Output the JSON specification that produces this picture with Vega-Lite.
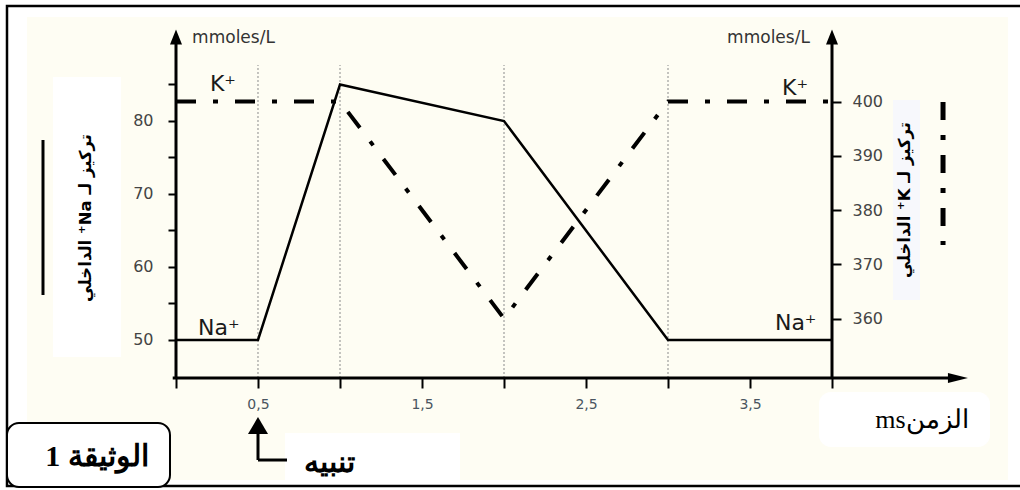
{
  "$schema": "https://vega.github.io/schema/vega-lite/v6.json",
  "width": 1020,
  "height": 490,
  "padding": 0,
  "autosize": {"type": "none"},
  "background": "white",
  "config": {"view": {"stroke": null}, "axis": {"grid": false, "domain": false, "labelFont": "DejaVu Sans", "zindex": 2}},
  "encoding": {
    "x": {
      "field": "x", "type": "quantitative",
      "scale": {"domain": [-1.07317, 5.14634], "nice": false, "zero": false},
      "axis": {
        "orient": "bottom", "offset": -112, "title": null, "zindex": 2,
        "values": [0, 0.5, 1, 1.5, 2, 2.5, 3, 3.5, 4],
        "tickSize": 10, "tickWidth": 2, "tickColor": "black",
        "labelExpr": "(datum.value * 2) % 2 == 1 ? replace(format(datum.value, '.1f'), '.', ',') : ''",
        "labelFontSize": 14, "labelColor": "#4a5560", "labelPadding": 9,
        "labelOverlap": false, "labelFlush": false
      }
    }
  },
  "layer": [
    {
      "encoding": {
        "y": {
          "field": "y", "type": "quantitative",
          "scale": {"domain": [29.452, 96.575], "nice": false, "zero": false},
          "axis": {
            "orient": "left", "offset": -176, "title": null, "zindex": 2,
            "values": [50, 55, 60, 65, 70, 75, 80, 85],
            "tickSize": 8, "tickWidth": 2, "tickColor": "black",
            "labelExpr": "datum.value % 10 == 0 ? datum.label : ''",
            "labelFontSize": 16, "labelColor": "#444444", "labelPadding": 15,
            "labelOverlap": false, "labelFlush": false
          }
        }
      },
      "layer": [
        {
          "data": {"values": [{"x": -0.9085, "x2": 5.0732, "y": 94.247, "y2": 30.822}]},
          "mark": {"type": "rect", "fill": "#fefdf3"},
          "encoding": {"x2": {"field": "x2"}, "y2": {"field": "y2"}}
        },
        {
          "data": {"values": [
            {"x": -0.75, "x2": -0.3354, "y": 86.027, "y2": 47.671},
            {"x": 0.6646, "x2": 1.7317, "y": 37.26, "y2": 30.0}
          ]},
          "mark": {"type": "rect", "fill": "white"},
          "encoding": {"x2": {"field": "x2"}, "y2": {"field": "y2"}}
        },
        {
          "data": {"values": [{"x": 4.372, "x2": 4.537, "y": 82.877, "y2": 55.479}]},
          "mark": {"type": "rect", "fill": "#f7f8fc"},
          "encoding": {"x2": {"field": "x2"}, "y2": {"field": "y2"}}
        },
        {
          "data": {"values": [{"x": 3.9207, "x2": 4.9634, "y": 42.877, "y2": 35.342}]},
          "mark": {"type": "rect", "fill": "white", "cornerRadius": 12},
          "encoding": {"x2": {"field": "x2"}, "y2": {"field": "y2"}}
        },
        {
          "data": {"values": [{"x": -1.0305, "x2": 5.1768, "y": 95.753, "y2": 30.0}]},
          "mark": {"type": "rect", "fill": "transparent", "stroke": "black", "strokeWidth": 2.5},
          "encoding": {"x2": {"field": "x2"}, "y2": {"field": "y2"}}
        },
        {
          "data": {"values": [{"x": -1.0305, "x2": -0.0366, "y": 38.63, "y2": 29.863}]},
          "mark": {"type": "rect", "fill": "white", "stroke": "black", "strokeWidth": 2, "cornerRadius": 12},
          "encoding": {"x2": {"field": "x2"}, "y2": {"field": "y2"}}
        },
        {
          "data": {"values": [
            {"x": 0.5, "y": 44.795, "y2": 87.671},
            {"x": 1, "y": 44.795, "y2": 87.671},
            {"x": 2, "y": 44.795, "y2": 87.671},
            {"x": 3, "y": 44.795, "y2": 87.671}
          ]},
          "mark": {"type": "rule", "color": "#8a8a8a", "strokeWidth": 1, "strokeDash": [2, 2]},
          "encoding": {"y2": {"field": "y2"}}
        },
        {
          "data": {"values": [
            {"x": 0, "x2": 0, "y": 44.795, "y2": 91.1},
            {"x": 4, "x2": 4, "y": 44.795, "y2": 91.1},
            {"x": -0.02, "x2": 4.72, "y": 44.795, "y2": 44.795},
            {"x": 0.5, "x2": 0.5, "y": 33.56, "y2": 37.6},
            {"x": 0.5, "x2": 0.677, "y": 33.56, "y2": 33.56},
            {"x": -0.811, "x2": -0.811, "y": 77.397, "y2": 56.164}
          ]},
          "mark": {"type": "rule", "color": "black", "strokeWidth": 3},
          "encoding": {"x2": {"field": "x2"}, "y2": {"field": "y2"}}
        },
        {
          "data": {"values": [{"x": 4.677, "x2": 4.677, "y": 82.6, "y2": 63.01}]},
          "mark": {"type": "rule", "color": "black", "strokeWidth": 5, "strokeDash": [18, 15, 5, 15]},
          "encoding": {"x2": {"field": "x2"}, "y2": {"field": "y2"}}
        },
        {
          "data": {"values": [{"x": 0, "y": 91.507}, {"x": 4, "y": 91.507}]},
          "mark": {"type": "point", "shape": "M0,-1L0.8,1L-0.8,1Z", "size": 225, "filled": true, "color": "black", "opacity": 1, "strokeWidth": 0}
        },
        {
          "data": {"values": [{"x": 4.768, "y": 44.795}]},
          "mark": {"type": "point", "shape": "M1,0L-1,-0.5L-1,0.5Z", "size": 400, "filled": true, "color": "black", "opacity": 1, "strokeWidth": 0}
        },
        {
          "data": {"values": [{"x": 0.5, "y": 38.29}]},
          "mark": {"type": "point", "shape": "M0,-0.85L1,0.85L-1,0.85Z", "size": 400, "filled": true, "color": "black", "opacity": 1, "strokeWidth": 0}
        },
        {
          "data": {"values": [
            {"x": 0, "y": 50}, {"x": 0.5, "y": 50}, {"x": 1, "y": 85},
            {"x": 2, "y": 80}, {"x": 3, "y": 50}, {"x": 4, "y": 50}
          ]},
          "mark": {"type": "line", "color": "black", "strokeWidth": 2.5}
        },
        {
          "data": {"values": [
            {"x": 0.3506, "y": 91.37, "label": "mmoles/L"},
            {"x": 3.6128, "y": 91.37, "label": "mmoles/L"}
          ]},
          "mark": {"type": "text", "font": "DejaVu Sans", "fontSize": 17, "color": "#333333", "align": "center", "baseline": "middle"},
          "encoding": {"text": {"field": "label"}}
        },
        {
          "data": {"values": [
            {"x": 0.207, "y": 85.07, "label": "K⁺"},
            {"x": 3.695, "y": 84.52, "label": "K⁺"},
            {"x": 0.134, "y": 51.64, "label": "Na⁺"},
            {"x": 3.652, "y": 52.33, "label": "Na⁺"}
          ]},
          "mark": {"type": "text", "font": "DejaVu Sans", "fontSize": 22, "color": "#1a1a1a", "align": "left", "baseline": "middle"},
          "encoding": {"text": {"field": "label"}}
        },
        {
          "data": {"values": [
            {"x": -0.5488, "y": 66.71, "label": "‫تركيز لـ Na⁺ الداخلي‬"},
            {"x": 4.445, "y": 69.18, "label": "‫تركيز لـ K⁺ الداخلي‬"}
          ]},
          "mark": {"type": "text", "font": "DejaVu Sans", "fontWeight": "bold", "fontSize": 16.5, "color": "black", "align": "center", "baseline": "middle", "angle": 270},
          "encoding": {"text": {"field": "label"}}
        },
        {
          "data": {"values": [{"x": 4.549, "y": 39.04, "label": "msالزمن"}]},
          "mark": {"type": "text", "font": "Liberation Serif", "fontSize": 26, "color": "black", "align": "center", "baseline": "middle"},
          "encoding": {"text": {"field": "label"}}
        },
        {
          "data": {"values": [
            {"x": -0.4817, "y": 33.97, "label": "الوثيقة 1"},
            {"x": 0.939, "y": 33.15, "label": "تنبيه"}
          ]},
          "mark": {"type": "text", "font": "Liberation Serif", "fontWeight": "bold", "fontSize": 30, "color": "black", "align": "center", "baseline": "middle"},
          "encoding": {"text": {"field": "label"}}
        }
      ]
    },
    {
      "data": {"values": [
        {"x": 0, "k": 400}, {"x": 1, "k": 400}, {"x": 2, "k": 360},
        {"x": 3, "k": 400}, {"x": 4, "k": 400}
      ]},
      "mark": {"type": "line", "color": "black", "strokeWidth": 4, "strokeDash": [20, 17, 5, 17]},
      "encoding": {
        "y": {
          "field": "k", "type": "quantitative",
          "scale": {"domain": [328.387, 418.71], "nice": false, "zero": false},
          "axis": {
            "orient": "right", "offset": -188, "title": null, "zindex": 2,
            "values": [360, 370, 380, 390, 400],
            "tickSize": 9, "tickWidth": 2, "tickColor": "black",
            "labelFontSize": 16, "labelColor": "#444444", "labelPadding": 11,
            "labelOverlap": false, "labelFlush": false
          }
        }
      }
    }
  ],
  "resolve": {"scale": {"y": "independent"}, "axis": {"y": "independent"}}
}
